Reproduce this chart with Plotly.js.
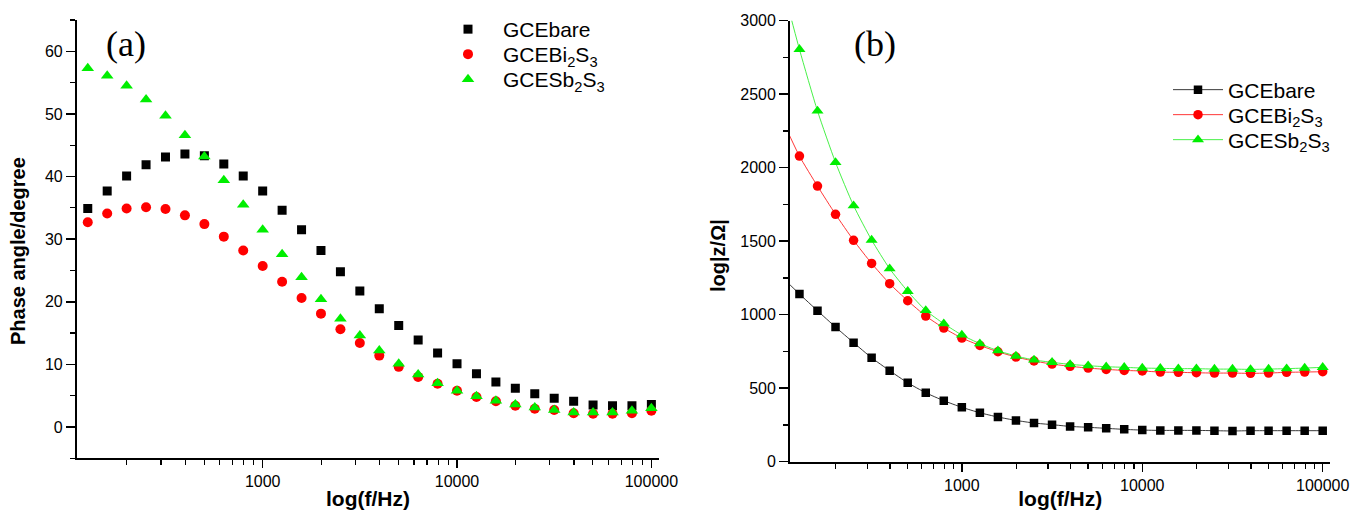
<!DOCTYPE html>
<html>
<head>
<meta charset="utf-8">
<script src="https://cdn.plot.ly/plotly-3.0.1.min.js"></script>
<style>html,body{margin:0;padding:0;background:#fff;}#chart{width:1351px;height:510px;}</style>
</head>
<body>
<div id="chart"></div>
<script>
// Frequencies (Hz) of the measured points
const freq = [125.9, 158.5, 199.5, 251.2, 316.2, 398.1, 501.2, 631.0, 794.3, 1000,
  1259, 1585, 1995, 2512, 3162, 3981, 5012, 6310, 7943, 10000,
  12589, 15849, 19953, 25119, 31623, 39811, 50119, 63096, 79433, 100000];
// Panel (a): phase angle / degree
const phaseBare = [34.9, 37.7, 40.1, 41.9, 43.1, 43.6, 43.3, 42.0, 40.1, 37.7,
  34.6, 31.5, 28.2, 24.8, 21.7, 18.9, 16.2, 13.9, 11.8, 10.1,
  8.5, 7.2, 6.2, 5.3, 4.6, 4.1, 3.5, 3.4, 3.4, 3.6];
const phaseBi2S3 = [32.7, 34.1, 34.9, 35.1, 34.8, 33.8, 32.4, 30.4, 28.2, 25.7,
  23.2, 20.6, 18.1, 15.6, 13.4, 11.4, 9.6, 8.0, 6.9, 5.8,
  4.8, 4.1, 3.4, 2.9, 2.7, 2.2, 2.1, 2.1, 2.2, 2.6];
const phaseSb2S3 = [57.3, 56.1, 54.5, 52.3, 49.7, 46.6, 43.2, 39.4, 35.5, 31.5,
  27.6, 23.9, 20.4, 17.3, 14.6, 12.2, 10.1, 8.4, 7.0, 5.8,
  4.9, 4.2, 3.6, 3.1, 2.7, 2.3, 2.3, 2.3, 2.6, 3.0];
// Panel (b): |Z| (first point at 100 Hz lies just outside the drawn axis range)
const freqZ = [100, 125.9, 158.5, 199.5, 251.2, 316.2, 398.1, 501.2, 631.0, 794.3, 1000,
  1259, 1585, 1995, 2512, 3162, 3981, 5012, 6310, 7943, 10000,
  12589, 15849, 19953, 25119, 31623, 39811, 50119, 63096, 79433, 100000];
const zBare = [1260, 1141, 1027, 916, 810, 707, 619, 537, 469, 415, 370,
  333, 304, 281, 263, 252, 240, 234, 227, 220, 215,
  213, 213, 213, 211, 209, 211, 211, 211, 211, 211];
const zBi2S3 = [2338, 2079, 1875, 1683, 1506, 1349, 1211, 1095, 991, 909, 841,
  791, 748, 712, 685, 664, 649, 637, 628, 621, 617,
  610, 608, 605, 603, 603, 601, 603, 608, 610, 612];
const zSb2S3 = [3270, 2805, 2386, 2036, 1742, 1508, 1313, 1159, 1029, 939, 862,
  803, 755, 719, 692, 676, 662, 653, 646, 642, 637,
  635, 633, 633, 630, 630, 628, 630, 633, 637, 642];

const names = ['GCEbare', 'GCEBi<sub>2</sub>S<sub>3</sub>', 'GCESb<sub>2</sub>S<sub>3</sub>'];
const colors = ['#000000', '#ff0000', '#00ee00'];
const lineColors = ['#222222', '#ff2020', '#33ee33'];
const symbols = ['square', 'circle', 'triangle-up'];
const sizesA = [9, 10, 11];
const sizesB = [8.5, 9.5, 10.5];

const majorX = [1000, 10000, 100000];
const minorX = [];
[100, 1000, 10000].forEach(d => { for (let k = 2; k <= 9; k++) minorX.push(k * d); });

const font = 'Arial, "Liberation Sans", sans-serif';
const phases = [phaseBare, phaseBi2S3, phaseSb2S3];
const zs = [zBare, zBi2S3, zSb2S3];
const traces = [];
phases.forEach((p, i) => traces.push({
  x: freq, y: p, type: 'scatter', mode: 'markers', name: names[i],
  xaxis: 'x', yaxis: 'y', legend: i === 0 ? 'legend' : 'legend' + (i + 1),
  marker: {symbol: symbols[i], size: sizesA[i], color: colors[i], line: {width: 0}}
}));
zs.forEach((z, i) => traces.push({
  x: freqZ, y: z, type: 'scatter', mode: 'lines+markers', name: names[i],
  xaxis: 'x2', yaxis: 'y2', legend: 'legend' + (i + 4),
  line: {color: lineColors[i], width: 0.9, shape: 'spline', smoothing: 0.6},
  marker: {symbol: symbols[i], size: sizesB[i], color: colors[i], line: {width: 0}}
}));

function xAxis(domain, range, anchor) {
  return {
    type: 'log', domain: domain, range: range, anchor: anchor,
    tickmode: 'array', tickvals: majorX, ticktext: majorX.map(String),
    ticks: 'outside', ticklen: 8, tickwidth: 1.5, tickcolor: '#000',
    minor: {tickmode: 'array', tickvals: minorX, ticks: 'outside', ticklen: 5, tickwidth: 1.2, tickcolor: '#000', showgrid: false},
    showline: true, linecolor: '#000', linewidth: 2, mirror: false,
    showgrid: false, zeroline: false,
    tickfont: {family: font, size: 16, color: '#000'},
    title: {text: 'log(f/Hz)', font: {family: font, size: 21, color: '#000', weight: 'bold'}, standoff: 4},
    automargin: false
  };
}
function yAxis(domain, range, tickvals, minorD, anchor) {
  return {
    domain: domain, range: range, anchor: anchor,
    tickmode: 'array', tickvals: tickvals,
    ticks: 'outside', ticklen: 9, tickwidth: 1.5, tickcolor: '#000',
    minor: {tick0: 0, dtick: minorD, ticks: 'outside', ticklen: 5, tickwidth: 1.2, tickcolor: '#000', showgrid: false},
    showline: true, linecolor: '#000', linewidth: 2, mirror: false,
    showgrid: false, zeroline: false,
    tickfont: {family: font, size: 16, color: '#000'},
    automargin: false
  };
}
function legendAt(xPx, topPx, itemwidth) {
  return {
    x: xPx / 1351, y: 1 - topPx / 510, xanchor: 'left', yanchor: 'top',
    bgcolor: 'rgba(0,0,0,0)', borderwidth: 0, itemwidth: itemwidth, tracegroupgap: 0,
    font: {family: font, size: 21, color: '#000'}
  };
}

const phaseTicks = [0, 10, 20, 30, 40, 50, 60];
const zTicks = [0, 500, 1000, 1500, 2000, 2500, 3000];

const layout = {
  width: 1351, height: 510,
  margin: {l: 0, r: 0, t: 0, b: 0},
  paper_bgcolor: '#fff', plot_bgcolor: '#fff',
  showlegend: true,
  xaxis: xAxis([0.0569, 0.4879], [2.044, 5.04], 'y'),
  yaxis: yAxis([0.1014, 0.9608], [-5, 65], phaseTicks, 5, 'x'),
  xaxis2: xAxis([0.5848, 0.9848], [2.048, 5.043], 'y2'),
  yaxis2: yAxis([0.0947, 0.9594], [0, 3000], zTicks, 250, 'x2'),
  legend: legendAt(433, 9, 60),
  legend2: legendAt(433, 34, 60),
  legend3: legendAt(433, 59, 60),
  legend4: legendAt(1168, 69.5, 50),
  legend5: legendAt(1168, 94.5, 50),
  legend6: legendAt(1168, 119.5, 50),
  annotations: [
    {text: '(a)', x: 125.5 / 1351, y: 1 - 43.5 / 510, xref: 'paper', yref: 'paper', xanchor: 'center', yanchor: 'middle', showarrow: false,
     font: {family: '"Times New Roman", "Liberation Serif", serif', size: 36, color: '#000'}},
    {text: '(b)', x: 875 / 1351, y: 1 - 44 / 510, xref: 'paper', yref: 'paper', xanchor: 'center', yanchor: 'middle', showarrow: false,
     font: {family: '"Times New Roman", "Liberation Serif", serif', size: 36, color: '#000'}},
    {text: '<b>Phase angle/degree</b>', x: 17.5 / 1351, y: 1 - 251.5 / 510, xref: 'paper', yref: 'paper', xanchor: 'center', yanchor: 'middle',
     textangle: -90, showarrow: false, font: {family: font, size: 20, color: '#000'}},
    {text: '<b>log|z/Ω|</b>', x: 718 / 1351, y: 1 - 256 / 510, xref: 'paper', yref: 'paper', xanchor: 'center', yanchor: 'middle',
     textangle: -90, showarrow: false, font: {family: font, size: 20, color: '#000'}}
  ]
};

Plotly.newPlot('chart', traces, layout, {displayModeBar: false, staticPlot: true});
</script>
</body>
</html>
